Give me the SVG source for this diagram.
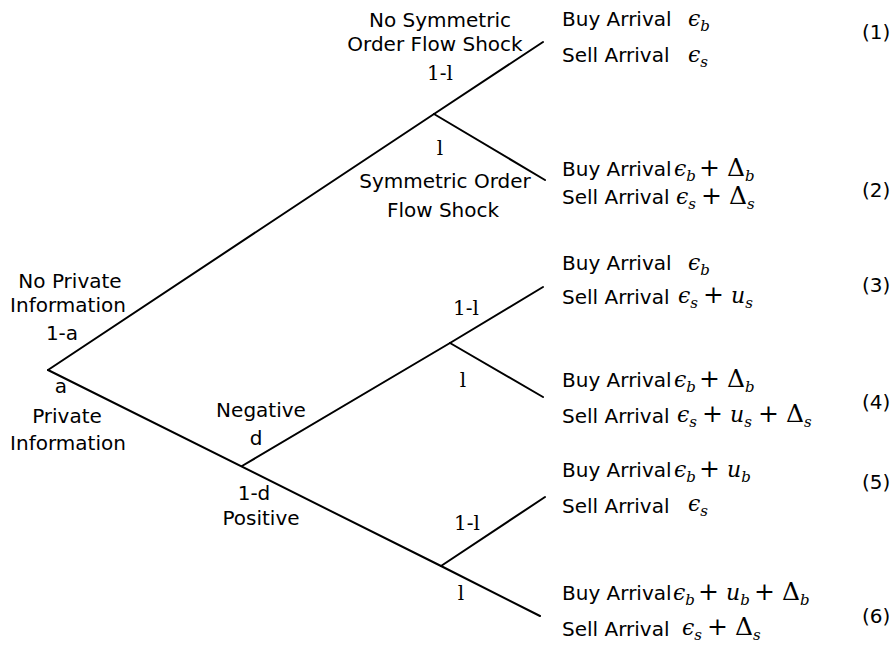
<svg xmlns="http://www.w3.org/2000/svg" width="896" height="646" viewBox="0 0 896 646">
<style>
.s{font-family:"DejaVu Sans","Liberation Sans",sans-serif;font-size:20px;fill:#000}
.c{text-anchor:middle}
.r{font-family:"DejaVu Serif","Liberation Serif",serif;font-size:20px;fill:#000;text-anchor:middle}
.m{font-family:"DejaVu Serif","Liberation Serif",serif;font-size:22px;font-style:italic;fill:#000}
.u{font-style:normal;font-size:25px}
.b{font-size:15px}
.ln{stroke:#000;stroke-width:2;fill:none;stroke-linecap:round}
</style>
<rect width="896" height="646" fill="#fff"/>
<g id="connectors">
<line class="ln" x1="48" y1="370" x2="434" y2="114"/>
<line class="ln" x1="434" y1="114" x2="543" y2="42"/>
<line class="ln" x1="434" y1="114" x2="545" y2="180"/>
<line class="ln" x1="48" y1="370" x2="441" y2="566"/>
<line class="ln" x1="242" y1="466" x2="450" y2="343"/>
<line class="ln" x1="450" y1="343" x2="543" y2="287"/>
<line class="ln" x1="450" y1="343" x2="543" y2="397"/>
<line class="ln" x1="441" y1="566" x2="545" y2="497"/>
<line class="ln" x1="441" y1="566" x2="540" y2="616"/>
</g>
<g id="root">
<text class="s c" x="70" y="288">No Private</text>
<text class="s c" x="68" y="312">Information</text>
<text class="s c" x="62" y="340">1-a</text>
<text class="s c" x="61" y="393">a</text>
<text class="s c" x="67" y="423">Private</text>
<text class="s c" x="68" y="450">Information</text>
</g>
<g id="node-no-private">
<text class="s c" x="440" y="27">No Symmetric</text>
<text class="s c" x="435" y="51">Order Flow Shock</text>
<text class="r" x="440" y="80">1-l</text>
<text class="r" x="440" y="155">l</text>
<text class="s c" x="445" y="188">Symmetric Order</text>
<text class="s c" x="443" y="217">Flow Shock</text>
</g>
<g id="node-private">
<text class="s c" x="261" y="417">Negative</text>
<text class="s c" x="256" y="445">d</text>
<text class="s c" x="254" y="500">1-d</text>
<text class="s c" x="261" y="525">Positive</text>
</g>
<g id="node-negative">
<text class="r" x="466" y="315">1-l</text>
<text class="r" x="463" y="387">l</text>
</g>
<g id="node-positive">
<text class="r" x="467" y="530">1-l</text>
<text class="r" x="461" y="600">l</text>
</g>
<g id="outcome-1">
<text class="s" x="562" y="26">Buy Arrival</text>
<text class="m" y="26"><tspan x="688">ϵ</tspan><tspan class="b" dy="5">b</tspan></text>
<text class="s" x="562" y="62">Sell Arrival</text>
<text class="m" y="62"><tspan x="688">ϵ</tspan><tspan class="b" dy="5">s</tspan></text>
<text class="s" x="862" y="39">(1)</text>
</g>
<g id="outcome-2">
<text class="s" x="562" y="176">Buy Arrival</text>
<text class="m" y="176"><tspan x="674">ϵ</tspan><tspan class="b" dy="5">b</tspan><tspan class="u" x="699" dy="-5">+</tspan><tspan class="u" x="727">Δ</tspan><tspan class="b" dy="5">b</tspan></text>
<text class="s" x="562" y="204">Sell Arrival</text>
<text class="m" y="204"><tspan x="676">ϵ</tspan><tspan class="b" dy="5">s</tspan><tspan class="u" x="701" dy="-5">+</tspan><tspan class="u" x="729">Δ</tspan><tspan class="b" dy="5">s</tspan></text>
<text class="s" x="862" y="197">(2)</text>
</g>
<g id="outcome-3">
<text class="s" x="562" y="270">Buy Arrival</text>
<text class="m" y="270"><tspan x="688">ϵ</tspan><tspan class="b" dy="5">b</tspan></text>
<text class="s" x="562" y="304">Sell Arrival</text>
<text class="m" y="303"><tspan x="678">ϵ</tspan><tspan class="b" dy="5">s</tspan><tspan class="u" x="703" dy="-5">+</tspan><tspan x="731">u</tspan><tspan class="b" dy="5">s</tspan></text>
<text class="s" x="862" y="292">(3)</text>
</g>
<g id="outcome-4">
<text class="s" x="562" y="387">Buy Arrival</text>
<text class="m" y="387"><tspan x="674">ϵ</tspan><tspan class="b" dy="5">b</tspan><tspan class="u" x="699" dy="-5">+</tspan><tspan class="u" x="727">Δ</tspan><tspan class="b" dy="5">b</tspan></text>
<text class="s" x="562" y="423">Sell Arrival</text>
<text class="m" y="422"><tspan x="677">ϵ</tspan><tspan class="b" dy="5">s</tspan><tspan class="u" x="702" dy="-5">+</tspan><tspan x="730">u</tspan><tspan class="b" dy="5">s</tspan><tspan class="u" x="758" dy="-5">+</tspan><tspan class="u" x="786">Δ</tspan><tspan class="b" dy="5">s</tspan></text>
<text class="s" x="862" y="409">(4)</text>
</g>
<g id="outcome-5">
<text class="s" x="562" y="477">Buy Arrival</text>
<text class="m" y="477"><tspan x="674">ϵ</tspan><tspan class="b" dy="5">b</tspan><tspan class="u" x="699" dy="-5">+</tspan><tspan x="727">u</tspan><tspan class="b" dy="5">b</tspan></text>
<text class="s" x="562" y="513">Sell Arrival</text>
<text class="m" y="511"><tspan x="688">ϵ</tspan><tspan class="b" dy="5">s</tspan></text>
<text class="s" x="862" y="489">(5)</text>
</g>
<g id="outcome-6">
<text class="s" x="562" y="600">Buy Arrival</text>
<text class="m" y="600"><tspan x="673">ϵ</tspan><tspan class="b" dy="5">b</tspan><tspan class="u" x="698" dy="-5">+</tspan><tspan x="726">u</tspan><tspan class="b" dy="5">b</tspan><tspan class="u" x="754" dy="-5">+</tspan><tspan class="u" x="782">Δ</tspan><tspan class="b" dy="5">b</tspan></text>
<text class="s" x="562" y="636">Sell Arrival</text>
<text class="m" y="635"><tspan x="682">ϵ</tspan><tspan class="b" dy="5">s</tspan><tspan class="u" x="707" dy="-5">+</tspan><tspan class="u" x="735">Δ</tspan><tspan class="b" dy="5">s</tspan></text>
<text class="s" x="862" y="623">(6)</text>
</g>
</svg>
